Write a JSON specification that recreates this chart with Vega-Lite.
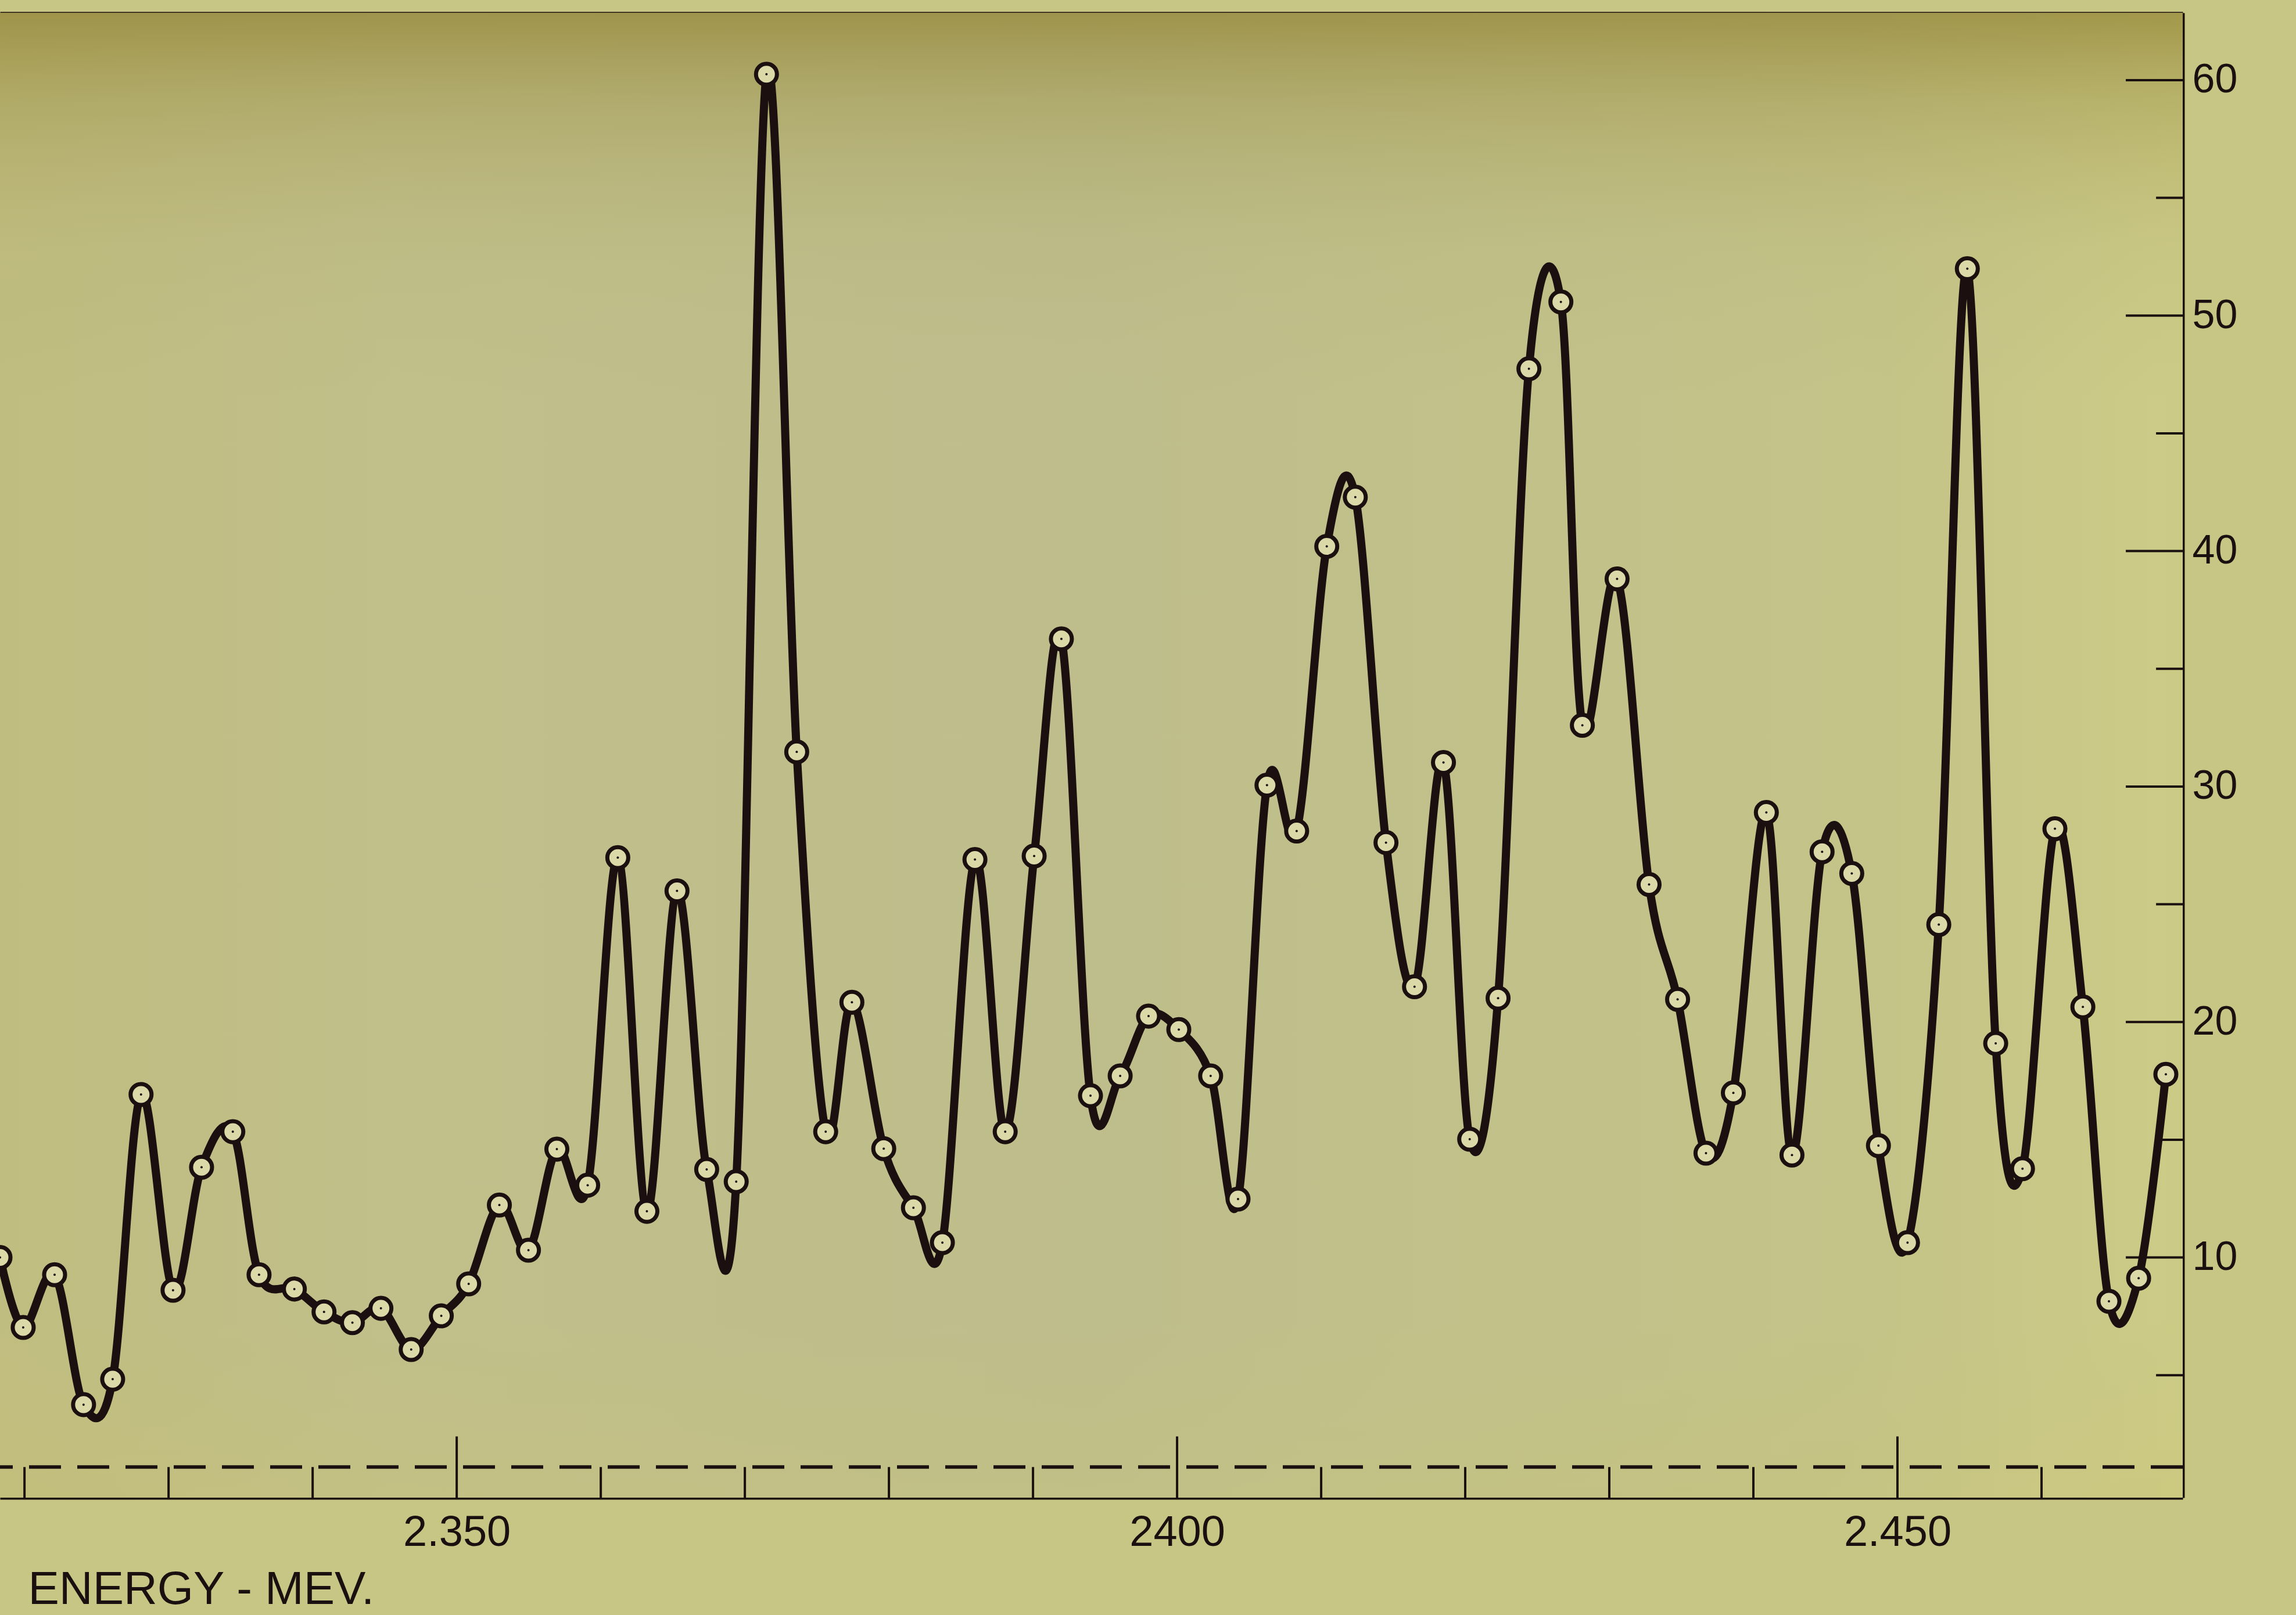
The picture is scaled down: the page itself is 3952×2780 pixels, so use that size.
{
  "$schema": "https://vega.github.io/schema/vega-lite/v6.json",
  "autosize": {"type": "none"},
  "padding": {"left": 0, "top": 22, "right": 195, "bottom": 202},
  "width": 3757,
  "height": 2556,
  "background": "#c8c684",
  "config": {
    "view": {"stroke": null},
    "axis": {
      "grid": false,
      "zindex": 1,
      "domainColor": "#1a1010",
      "tickColor": "#1a1010",
      "labelColor": "#1a1010",
      "titleColor": "#1a1010",
      "labelFont": "Liberation Sans",
      "titleFont": "Liberation Sans",
      "titleFontWeight": "normal",
      "labelLimit": 600
    }
  },
  "datasets": {
    "pts": [
      {"energy": 2.3183, "counts": 10.0},
      {"energy": 2.31991, "counts": 7.03},
      {"energy": 2.32209, "counts": 9.27},
      {"energy": 2.3241, "counts": 3.75},
      {"energy": 2.32612, "counts": 4.83},
      {"energy": 2.32809, "counts": 16.92},
      {"energy": 2.33031, "counts": 8.61},
      {"energy": 2.33229, "counts": 13.83},
      {"energy": 2.33446, "counts": 15.34},
      {"energy": 2.33628, "counts": 9.27},
      {"energy": 2.33873, "counts": 8.66},
      {"energy": 2.34079, "counts": 7.69},
      {"energy": 2.34276, "counts": 7.23},
      {"energy": 2.34474, "counts": 7.84},
      {"energy": 2.34684, "counts": 6.09},
      {"energy": 2.34893, "counts": 7.52},
      {"energy": 2.35083, "counts": 8.88},
      {"energy": 2.35296, "counts": 12.23},
      {"energy": 2.35498, "counts": 10.31},
      {"energy": 2.35695, "counts": 14.6},
      {"energy": 2.35909, "counts": 13.07},
      {"energy": 2.36118, "counts": 26.98},
      {"energy": 2.3632, "counts": 11.96},
      {"energy": 2.36529, "counts": 25.57},
      {"energy": 2.36735, "counts": 13.74},
      {"energy": 2.3694, "counts": 13.22},
      {"energy": 2.3715, "counts": 60.25},
      {"energy": 2.3736, "counts": 31.47},
      {"energy": 2.37561, "counts": 15.34},
      {"energy": 2.37743, "counts": 20.84},
      {"energy": 2.37964, "counts": 14.62},
      {"energy": 2.3817, "counts": 12.11},
      {"energy": 2.38371, "counts": 10.63},
      {"energy": 2.38597, "counts": 26.9},
      {"energy": 2.38807, "counts": 15.34},
      {"energy": 2.39008, "counts": 27.05},
      {"energy": 2.39197, "counts": 36.27},
      {"energy": 2.39399, "counts": 16.87},
      {"energy": 2.39605, "counts": 17.71},
      {"energy": 2.39802, "counts": 20.25},
      {"energy": 2.40012, "counts": 19.68},
      {"energy": 2.40233, "counts": 17.71},
      {"energy": 2.40423, "counts": 12.48},
      {"energy": 2.40624, "counts": 30.06},
      {"energy": 2.4083, "counts": 28.11},
      {"energy": 2.41039, "counts": 40.2},
      {"energy": 2.41237, "counts": 42.29},
      {"energy": 2.4145, "counts": 27.62},
      {"energy": 2.41648, "counts": 21.5},
      {"energy": 2.41849, "counts": 31.02},
      {"energy": 2.42031, "counts": 15.02},
      {"energy": 2.42228, "counts": 21.01},
      {"energy": 2.42442, "counts": 47.74},
      {"energy": 2.42664, "counts": 50.58},
      {"energy": 2.42813, "counts": 32.6},
      {"energy": 2.43054, "counts": 38.82},
      {"energy": 2.43276, "counts": 25.84},
      {"energy": 2.43474, "counts": 20.96},
      {"energy": 2.43671, "counts": 14.43},
      {"energy": 2.43861, "counts": 16.99},
      {"energy": 2.4409, "counts": 28.9},
      {"energy": 2.44268, "counts": 14.35},
      {"energy": 2.44477, "counts": 27.23},
      {"energy": 2.44683, "counts": 26.31},
      {"energy": 2.44868, "counts": 14.75},
      {"energy": 2.4507, "counts": 10.63},
      {"energy": 2.45287, "counts": 24.14},
      {"energy": 2.45485, "counts": 51.99},
      {"energy": 2.45682, "counts": 19.09},
      {"energy": 2.45868, "counts": 13.77},
      {"energy": 2.46093, "counts": 28.21},
      {"energy": 2.46287, "counts": 20.64},
      {"energy": 2.46468, "counts": 8.14},
      {"energy": 2.46674, "counts": 9.12},
      {"energy": 2.46863, "counts": 17.78}
    ],
    "xticks": [
      {"tick": 2.32, "kind": "minor"}, {"tick": 2.33, "kind": "minor"}, {"tick": 2.34, "kind": "minor"},
      {"tick": 2.35, "kind": "major"}, {"tick": 2.36, "kind": "minor"}, {"tick": 2.37, "kind": "minor"},
      {"tick": 2.38, "kind": "minor"}, {"tick": 2.39, "kind": "minor"}, {"tick": 2.4, "kind": "major"},
      {"tick": 2.41, "kind": "minor"}, {"tick": 2.42, "kind": "minor"}, {"tick": 2.43, "kind": "minor"},
      {"tick": 2.44, "kind": "minor"}, {"tick": 2.45, "kind": "major"}, {"tick": 2.46, "kind": "minor"}
    ],
    "yticks": [
      {"tick": 5, "kind": "minor"}, {"tick": 10, "kind": "major"}, {"tick": 15, "kind": "minor"},
      {"tick": 20, "kind": "major"}, {"tick": 25, "kind": "minor"}, {"tick": 30, "kind": "major"},
      {"tick": 35, "kind": "minor"}, {"tick": 40, "kind": "major"}, {"tick": 45, "kind": "minor"},
      {"tick": 50, "kind": "major"}, {"tick": 55, "kind": "minor"}, {"tick": 60, "kind": "major"}
    ]
  },
  "data": {"name": "pts"},
  "resolve": {
    "scale": {"x": "shared", "y": "shared"},
    "axis": {"x": "independent", "y": "independent"}
  },
  "layer": [
    {
      "data": {"values": [{}]},
      "mark": {
        "type": "rect",
        "fill": {
          "gradient": "linear", "x1": 0, "y1": 0, "x2": 1, "y2": 0,
          "stops": [
            {"offset": 0, "color": "#c0bd80"},
            {"offset": 0.18, "color": "#c1bf8a"},
            {"offset": 0.5, "color": "#bebe8c"},
            {"offset": 0.85, "color": "#c4c388"},
            {"offset": 1, "color": "#cccb86"}
          ]
        }
      },
      "encoding": {
        "x": {"datum": 2.3183, "type": "quantitative", "scale": {"domain": [2.3183, 2.4698], "nice": false, "zero": false},
          "axis": {"orient": "top", "domain": true, "domainWidth": 4, "ticks": false, "labels": false, "title": null}},
        "x2": {"datum": 2.4698},
        "y": {"datum": -0.2, "type": "quantitative", "axis": null, "scale": {"domain": [-0.2, 62.86], "nice": false, "zero": false}},
        "y2": {"datum": 62.86}
      }
    },
    {
      "data": {"values": [{}]},
      "mark": {
        "type": "rect",
        "fill": {
          "gradient": "linear", "x1": 0, "y1": 0, "x2": 0, "y2": 1,
          "stops": [
            {"offset": 0, "color": "rgba(145,130,50,0.7)"},
            {"offset": 0.03, "color": "rgba(145,130,50,0.5)"},
            {"offset": 0.06, "color": "rgba(150,138,60,0.37)"},
            {"offset": 0.1, "color": "rgba(155,145,70,0.24)"},
            {"offset": 0.16, "color": "rgba(165,160,95,0.1)"},
            {"offset": 0.26, "color": "rgba(170,165,110,0)"},
            {"offset": 0.88, "color": "rgba(200,195,110,0)"},
            {"offset": 1, "color": "rgba(205,198,105,0.18)"}
          ]
        }
      },
      "encoding": {
        "x": {"datum": 2.3183, "type": "quantitative", "axis": null, "scale": {"domain": [2.3183, 2.4698], "nice": false, "zero": false}},
        "x2": {"datum": 2.4698},
        "y": {"datum": -0.2, "type": "quantitative", "axis": null, "scale": {"domain": [-0.2, 62.86], "nice": false, "zero": false}},
        "y2": {"datum": 62.86}
      }
    },
    {
      "data": {"values": [{}]},
      "mark": {"type": "rule", "color": "#1a1010", "strokeWidth": 6, "strokeDash": [55, 28]},
      "encoding": {
        "y": {"datum": 1.1, "type": "quantitative", "axis": null, "scale": {"domain": [-0.2, 62.86], "nice": false, "zero": false}}
      }
    },
    {
      "data": {"name": "xticks"},
      "transform": [{"filter": "datum.kind == 'minor'"}],
      "mark": {"type": "rule", "color": "#1a1010", "strokeWidth": 4},
      "encoding": {
        "x": {"field": "tick", "type": "quantitative", "axis": null, "scale": {"domain": [2.3183, 2.4698], "nice": false, "zero": false}},
        "y": {"datum": -0.2, "type": "quantitative", "axis": null, "scale": {"domain": [-0.2, 62.86], "nice": false, "zero": false}},
        "y2": {"datum": 1.1}
      }
    },
    {
      "data": {"name": "xticks"},
      "transform": [{"filter": "datum.kind == 'major'"}],
      "mark": {"type": "rule", "color": "#1a1010", "strokeWidth": 4},
      "encoding": {
        "x": {"field": "tick", "type": "quantitative", "axis": null, "scale": {"domain": [2.3183, 2.4698], "nice": false, "zero": false}},
        "y": {"datum": -0.2, "type": "quantitative", "axis": null, "scale": {"domain": [-0.2, 62.86], "nice": false, "zero": false}},
        "y2": {"datum": 2.4}
      }
    },
    {
      "data": {"name": "yticks"},
      "transform": [{"filter": "datum.kind == 'minor'"}],
      "mark": {"type": "rule", "color": "#1a1010", "strokeWidth": 4},
      "encoding": {
        "y": {"field": "tick", "type": "quantitative", "axis": null, "scale": {"domain": [-0.2, 62.86], "nice": false, "zero": false}},
        "x": {"datum": 2.4698, "type": "quantitative", "axis": null, "scale": {"domain": [2.3183, 2.4698], "nice": false, "zero": false}},
        "x2": {"datum": 2.46795}
      }
    },
    {
      "data": {"name": "yticks"},
      "transform": [{"filter": "datum.kind == 'major'"}],
      "mark": {"type": "rule", "color": "#1a1010", "strokeWidth": 4},
      "encoding": {
        "y": {"field": "tick", "type": "quantitative", "axis": null, "scale": {"domain": [-0.2, 62.86], "nice": false, "zero": false}},
        "x": {"datum": 2.4698, "type": "quantitative", "axis": null, "scale": {"domain": [2.3183, 2.4698], "nice": false, "zero": false}},
        "x2": {"datum": 2.46585}
      }
    },
    {
      "mark": {"type": "line", "interpolate": "cardinal", "tension": 0, "color": "#1c0f10", "strokeWidth": 14, "strokeCap": "round", "strokeJoin": "round"},
      "encoding": {
        "x": {"field": "energy", "type": "quantitative", "scale": {"domain": [2.3183, 2.4698], "nice": false, "zero": false},
          "axis": {"orient": "bottom",
            "values": [2.35, 2.4, 2.45],
            "labelExpr": "datum.value == 2.4 ? '2400' : format(datum.value, '.3f')",
            "ticks": false,
            "domain": true, "domainWidth": 6, "labelPadding": 24, "labelFontSize": 74, "labelAlign": "center", "labelBaseline": "top",
            "title": "ENERGY - MEV.", "titleFontSize": 80, "titleX": 48, "titleY": 182, "titleAlign": "left", "titleBaseline": "alphabetic", "titleAnchor": null}},
        "y": {"field": "counts", "type": "quantitative", "scale": {"domain": [-0.2, 62.86], "nice": false, "zero": false},
          "axis": {"orient": "right", "values": [10, 20, 30, 40, 50, 60],
            "ticks": false,
            "domain": true, "domainWidth": 6,
            "labelPadding": 16, "labelFontSize": 70, "labelAlign": "left", "labelBaseline": "middle", "title": null}}
      }
    },
    {
      "mark": {"type": "point", "shape": "circle", "filled": true, "fill": "#dcd9a8", "fillOpacity": 1, "stroke": "#1c0f10", "strokeWidth": 7, "strokeOpacity": 1, "size": 1300},
      "encoding": {
        "x": {"field": "energy", "type": "quantitative", "axis": null, "scale": {"domain": [2.3183, 2.4698], "nice": false, "zero": false}},
        "y": {"field": "counts", "type": "quantitative", "axis": null, "scale": {"domain": [-0.2, 62.86], "nice": false, "zero": false}}
      }
    },
    {
      "mark": {"type": "circle", "color": "#1c0f10", "opacity": 1, "size": 16},
      "encoding": {
        "x": {"field": "energy", "type": "quantitative", "axis": null, "scale": {"domain": [2.3183, 2.4698], "nice": false, "zero": false}},
        "y": {"field": "counts", "type": "quantitative", "axis": null, "scale": {"domain": [-0.2, 62.86], "nice": false, "zero": false}}
      }
    }
  ]
}
